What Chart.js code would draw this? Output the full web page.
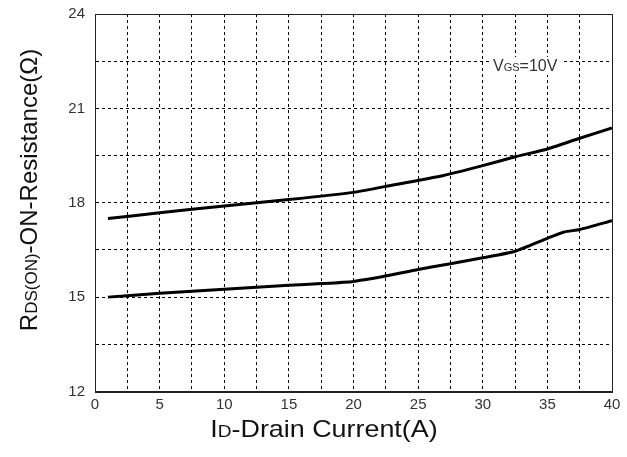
<!DOCTYPE html>
<html>
<head>
<meta charset="utf-8">
<script src="https://cdn.jsdelivr.net/npm/chart.js@4"></script>
<style>
  html, body { margin: 0; padding: 0; background: #fff; }
  #wrap { width: 627px; height: 457px; }
</style>
</head>
<body>
<div id="wrap"><canvas id="rdsChart"></canvas></div>
<script>
// values (ID in A, RDS(ON) in ohm)
const upperX = [1, 5, 10, 15, 20, 22.5, 26.7, 30, 32.5, 35, 37.5, 40];
const upperY = [17.5, 17.68, 17.9, 18.1, 18.33, 18.52, 18.84, 19.18, 19.46, 19.71, 20.05, 20.38];
const lowerX = [1, 5, 10, 15, 17.5, 20, 22.5, 25, 27.5, 30, 32.5, 35, 36.3, 37.5, 40];
const lowerY = [15.0, 15.12, 15.25, 15.38, 15.43, 15.5, 15.67, 15.88, 16.06, 16.25, 16.46, 16.87, 17.07, 17.15, 17.43];

const xTicks = [0, 5, 10, 15, 20, 25, 30, 35, 40];
const yTicks = [12, 15, 18, 21, 24];

const FONT = "'Liberation Sans', Arial, sans-serif";

function toPoints(xs, ys) {
  return xs.map((x, i) => ({ x: x, y: ys[i] }));
}

function piecesWidth(ctx, pieces) {
  let total = 0;
  pieces.forEach(p => {
    ctx.font = p[1] + "px " + FONT;
    total += ctx.measureText(p[0]).width;
  });
  return total;
}

// draws a string made of [text, size] pieces, left to right
function drawPieces(ctx, pieces, x, y, align) {
  const total = piecesWidth(ctx, pieces);
  let cx = align === "center" ? x - total / 2 : x;
  pieces.forEach(p => {
    ctx.font = p[1] + "px " + FONT;
    ctx.fillText(p[0], cx, y);
    cx += ctx.measureText(p[0]).width;
  });
  return total;
}

const decorations = {
  id: "decorations",
  afterDraw(chart) {
    const ctx = chart.ctx;
    const a = chart.chartArea;
    ctx.save();
    // frame
    ctx.strokeStyle = "#222";
    ctx.lineWidth = 1;
    ctx.strokeRect(Math.round(a.left) + 0.5, Math.round(a.top) + 0.5,
      Math.round(a.right - a.left), Math.round(a.bottom - a.top));

    ctx.fillStyle = "#111";
    ctx.textBaseline = "alphabetic";

    // x title (a bit wide in the original)
    ctx.save();
    ctx.translate(324, 437);
    ctx.scale(1.12, 1);
    drawPieces(ctx, [["I", 24], ["D", 17], ["-Drain Current(A)", 24]], 0, 0, "center");
    ctx.restore();

    // y title, rotated
    ctx.save();
    ctx.translate(37, 190);
    ctx.rotate(-Math.PI / 2);
    drawPieces(ctx, [["R", 24], ["DS(ON)", 17], ["-ON-Resistance(Ω)", 24]], 0, 0, "center");
    ctx.restore();

    // VGS note
    const note = [["V", 16], ["GS", 11], ["=10V", 16]];
    const nx = 493, ny = 71;
    const w = piecesWidth(ctx, note);
    ctx.fillStyle = "#fff";
    ctx.fillRect(nx - 4, ny - 14, w + 8, 18);
    ctx.fillStyle = "#333";
    drawPieces(ctx, note, nx, ny, "left");
    ctx.restore();
  }
};

const lineStyle = {
  borderColor: "#000",
  borderWidth: 3,
  pointRadius: 0,
  fill: false,
  tension: 0.2
};

new Chart(document.getElementById("rdsChart").getContext("2d"), {
  type: "line",
  data: {
    datasets: [
      Object.assign({ label: "upper", data: toPoints(upperX, upperY) }, lineStyle),
      Object.assign({ label: "lower", data: toPoints(lowerX, lowerY) }, lineStyle)
    ]
  },
  options: {
    responsive: true,
    maintainAspectRatio: false,
    animation: false,
    layout: { padding: { top: 14, right: 15, left: 0, bottom: 0 } },
    plugins: {
      legend: { display: false },
      tooltip: { enabled: false }
    },
    scales: {
      x: {
        type: "linear",
        min: 0,
        max: 40,
        afterFit: s => { s.height = 65.5; s.paddingLeft = 0; s.paddingRight = 0; },
        afterBuildTicks: s => {
          const t = [];
          for (let v = 0; v <= 40; v += 2.5) t.push({ value: v });
          s.ticks = t;
        },
        ticks: {
          autoSkip: false,
          maxRotation: 0,
          padding: 4,
          color: "#333",
          font: { family: FONT, size: 15 },
          callback: v => (xTicks.includes(v) ? String(v) : "")
        },
        grid: { color: "#000", lineWidth: 1, drawTicks: false },
        border: { display: true, color: "#222", dash: [3, 3] }
      },
      y: {
        type: "linear",
        min: 12,
        max: 24,
        afterFit: s => { s.width = 95; s.paddingTop = 0; s.paddingBottom = 0; },
        afterBuildTicks: s => {
          const t = [];
          for (let v = 12; v <= 24; v += 1.5) t.push({ value: v });
          s.ticks = t;
        },
        ticks: {
          autoSkip: false,
          padding: 10,
          color: "#333",
          font: { family: FONT, size: 15 },
          callback: v => (yTicks.includes(v) ? String(v) : "")
        },
        grid: { color: "#000", lineWidth: 1, drawTicks: false },
        border: { display: true, color: "#222", dash: [3, 3] }
      }
    }
  },
  plugins: [decorations]
});
</script>
</body>
</html>
